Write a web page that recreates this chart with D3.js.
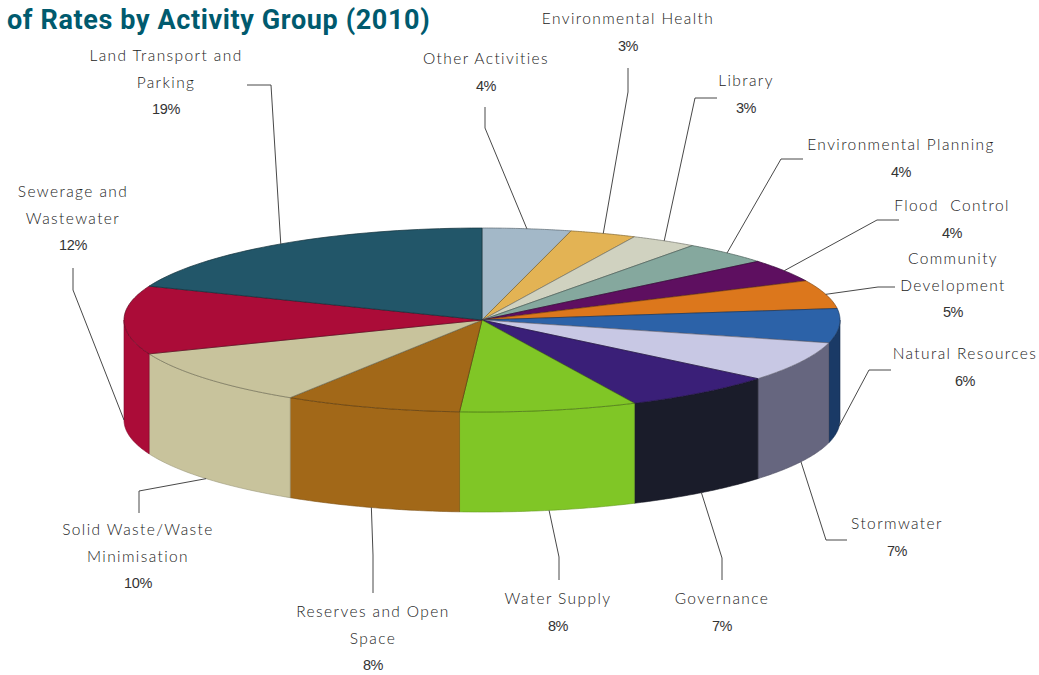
<!DOCTYPE html>
<html>
<head>
<meta charset="utf-8">
<title>Rates by Activity Group (2010)</title>
<script src="https://cdnjs.cloudflare.com/ajax/libs/d3/7.8.5/d3.min.js"></script>
<style>
  html, body { margin: 0; padding: 0; background: #fff; }
  svg { display: block; }
  .title { font-family: "Roboto", sans-serif; font-weight: 700; font-size: 27px; letter-spacing: 0.62px; fill: #005a6e; }
  .name { font-family: "Lato", "Open Sans", sans-serif; font-weight: 300; font-size: 15.5px; letter-spacing: 1.4px; fill: #222; }
  .pct { font-family: "Liberation Sans", sans-serif; font-size: 14.5px; letter-spacing: -0.4px; fill: #333; }
</style>
</head>
<body>
<svg id="chart" width="1039" height="675"></svg>
<script>
// Share of rates per activity, clockwise from twelve o'clock.
const activities = ["Other Activities", "Environmental Health", "Library", "Environmental Planning",
  "Flood Control", "Community Development", "Natural Resources", "Stormwater", "Governance",
  "Water Supply", "Reserves and Open Space", "Solid Waste/Waste Minimisation",
  "Sewerage and Wastewater", "Land Transport and Parking"];
const shares = [4, 3, 3, 4, 4, 5, 6, 7, 7, 8, 8, 10, 12, 19];
const topColors = ["#a3b8c8", "#e3b354", "#d0d2c0", "#85a89e", "#5e0f60", "#dc771c", "#2c62a8",
  "#c8c8e4", "#3a1f78", "#80c626", "#a26818", "#c8c39c", "#ab0c38", "#225669"];
const sideColors = ["#a3b8c8", "#e3b354", "#d0d2c0", "#85a89e", "#5e0f60", "#dc771c", "#1a3a66",
  "#66667f", "#1a1c2a", "#80c626", "#a26818", "#c8c39c", "#ab0c38", "#225669"];
const labelLines = [["Other Activities"], ["Environmental Health"], ["Library"], ["Environmental Planning"],
  ["Flood  Control"], ["Community", "Development"], ["Natural Resources"], ["Stormwater"], ["Governance"],
  ["Water Supply"], ["Reserves and Open", "Space"], ["Solid Waste/Waste", "Minimisation"],
  ["Sewerage and", "Wastewater"], ["Land Transport and", "Parking"]];

// Label placement: centre x, first baseline, then the leader's elbow and its end.
const labelCentres = [486, 628, 746, 901, 952, 953, 965, 897, 722, 558, 373, 138, 73, 166];
const labelBaselines = [64, 24, 86, 150, 211, 264, 359, 529, 604, 604, 617, 535, 197, 61];
const leaderElbows = [[485, 128], [628, 92], [695, 98], [781, 159], [877, 220], [878, 287], [869, 370],
  [826, 540], [722, 558], [559, 557], [373, 555], [139, 491], [73, 290], [271, 85]];
const leaderEnds = [[485, 107], [628, 68], [717, 98], [803, 159], [899, 220], [895, 287], [891, 370],
  [847, 540], [722, 580], [559, 580], [373, 593], [139, 513], [73, 268], [247, 85]];

const LINE_HEIGHT = 26.5;
const DEPTH = 100;
const x = d3.scaleLinear().domain([-1, 1]).range([124, 840]);
const y = d3.scaleLinear().domain([-1, 1]).range([228, 412]);

const svg = d3.select("#chart");
const line = d3.line();

// Point on the rim for an angle measured clockwise from the top, dropped by `drop` pixels.
const rim = (a, drop = 0) => [x(Math.sin(a)), y(-Math.cos(a)) + drop];
const samples = (a0, a1) => d3.range(0, 1.0001, 1 / 40).map(t => a0 + (a1 - a0) * t);

const slices = d3.pie().sort(null).value(d => d)(shares);

// Side wall: only the part of each slice on the near half of the disc shows.
const nearStart = Math.PI / 2, nearEnd = Math.PI * 1.5;
svg.append("g").selectAll("path")
  .data(slices.filter(s => s.endAngle > nearStart && s.startAngle < nearEnd))
  .join("path")
  .attr("d", s => {
    const a0 = Math.max(s.startAngle, nearStart), a1 = Math.min(s.endAngle, nearEnd);
    const upper = samples(a0, a1).map(a => rim(a));
    const lower = samples(a1, a0).map(a => rim(a, DEPTH));
    return line(upper.concat(lower)) + "Z";
  })
  .attr("fill", s => sideColors[s.index])
  .attr("stroke", s => d3.color(sideColors[s.index]).darker(0.7))
  .attr("stroke-width", 0.6);

// Top face of the disc.
svg.append("g").selectAll("path")
  .data(slices)
  .join("path")
  .attr("d", s => line([[x(0), y(0)], ...samples(s.startAngle, s.endAngle).map(a => rim(a))]) + "Z")
  .attr("fill", s => topColors[s.index])
  .attr("stroke", s => d3.color(topColors[s.index]).darker(1.6))
  .attr("stroke-width", 0.7)
  .attr("stroke-linejoin", "round");

// Leaders run from the middle of each slice's rim; near-side slices start at the wall's foot.
const anchor = s => {
  const mid = (s.startAngle + s.endAngle) / 2;
  const nearSide = mid >= nearStart - 1e-6 && mid <= nearEnd + 1e-6;
  return rim(mid, nearSide ? DEPTH : 0);
};
svg.append("g").selectAll("path")
  .data(slices)
  .join("path")
  .attr("d", s => line([anchor(s), leaderElbows[s.index], leaderEnds[s.index]]))
  .attr("fill", "none")
  .attr("stroke", "#333")
  .attr("stroke-width", 0.9);

// Name lines with the percentage underneath.
const labels = svg.append("g").attr("text-anchor", "middle").selectAll("g")
  .data(slices)
  .join("g");
labels.each(function (s) {
  const g = d3.select(this);
  const names = labelLines[s.index];
  names.forEach((text, i) => {
    g.append("text").attr("class", "name")
      .attr("x", labelCentres[s.index])
      .attr("y", labelBaselines[s.index] + i * LINE_HEIGHT)
      .attr("xml:space", "preserve")
      .text(text);
  });
  g.append("text").attr("class", "pct")
    .attr("x", labelCentres[s.index])
    .attr("y", labelBaselines[s.index] + names.length * LINE_HEIGHT)
    .text(d3.format(".0f")(s.data) + "%");
});

svg.append("text").attr("class", "title").attr("x", 7).attr("y", 29)
  .text("of Rates by Activity Group (2010)");
</script>
</body>
</html>
